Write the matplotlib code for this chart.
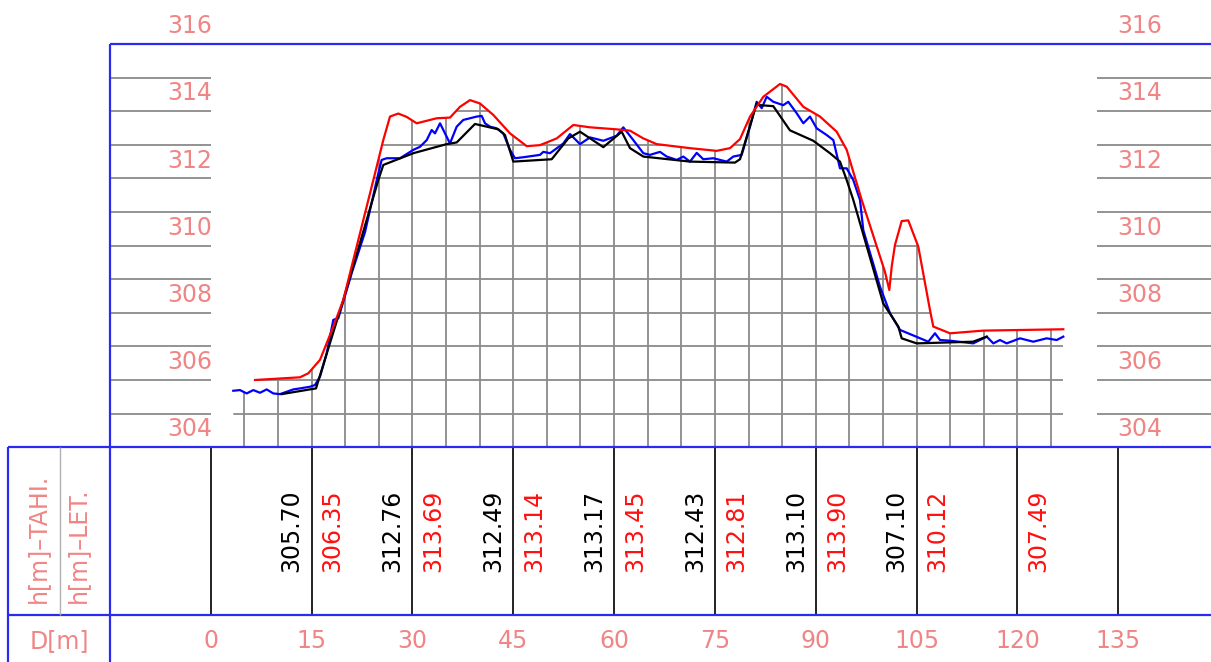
import numpy as np
import matplotlib
matplotlib.use('Agg')
import matplotlib.pyplot as plt
from matplotlib.patches import Polygon

# ---------------- data ----------------
red_d = [6.59, 13.28, 14.52, 16.26, 18.24, 19.72, 24.69, 25.67, 26.67, 27.90, 29.15, 30.64,
         33.62, 35.59, 37.08, 38.57, 40.05, 42.03, 44.52, 47.00, 48.98, 51.47, 53.93, 56.42,
         60.39, 62.37, 64.35, 66.34, 71.29, 75.26, 77.24, 78.73, 80.22, 82.20, 84.68, 85.68,
         88.15, 90.63, 93.11, 94.60, 96.83, 100.29, 100.94, 101.29, 101.78, 102.78, 103.76,
         105.25, 106.99, 107.48, 109.97, 114.92, 126.82]
red_h = [305.50, 305.58, 305.70, 306.10, 307.09, 307.88, 311.85, 312.64, 313.34, 313.43, 313.33, 313.14,
         313.29, 313.31, 313.63, 313.83, 313.73, 313.39, 312.84, 312.46, 312.49, 312.69, 313.09, 313.02,
         312.96, 312.92, 312.69, 312.52, 312.40, 312.32, 312.40, 312.67, 313.34, 313.93, 314.31, 314.23,
         313.63, 313.34, 312.89, 312.35, 310.86, 308.72, 308.18, 308.87, 309.52, 310.23, 310.25,
         309.47, 307.58, 307.09, 306.89, 306.97, 307.01]

blue_d = [3.36, 4.36, 5.35, 6.34, 7.33, 8.33, 9.31, 10.31, 11.30, 12.29, 13.28, 14.77, 15.51,
          16.26, 17.25, 18.24, 18.98, 19.49, 21.02, 22.95, 24.93, 25.43, 26.18, 28.16, 30.14,
          31.13, 32.13, 32.87, 33.36, 34.11, 35.10, 35.59, 36.59, 37.57, 39.57, 40.31, 40.80,
          41.54, 42.54, 43.52, 44.52, 45.26, 46.50, 48.98, 49.47, 50.47, 52.45, 53.44, 54.93,
          56.42, 58.40, 60.39, 61.37, 62.86, 64.35, 65.34, 66.83, 67.83, 69.31, 70.30, 71.29,
          72.29, 73.27, 74.76, 76.75, 77.73, 78.98, 80.22, 81.21, 81.96, 82.70, 83.68, 85.17,
          85.91, 87.16, 88.15, 89.14, 90.14, 91.63, 92.61, 93.60, 94.60, 95.58, 96.58, 97.07,
          99.55, 101.04, 102.53, 106.74, 107.73, 108.48, 109.97, 113.43, 114.43, 115.43,
          116.41, 117.40, 118.40, 120.38, 122.36, 124.35, 125.84, 126.82]
blue_h = [305.18, 305.20, 305.10, 305.20, 305.12, 305.22, 305.10, 305.08, 305.15, 305.22, 305.25, 305.30, 305.35,
          305.60, 306.29, 307.29, 307.34, 307.68, 308.71, 309.90, 311.65, 312.05, 312.10, 312.10, 312.35,
          312.44, 312.64, 312.94, 312.84, 313.14, 312.74, 312.54, 313.04, 313.24, 313.34, 313.36, 313.14,
          313.04, 312.99, 312.84, 312.35, 312.10, 312.13, 312.20, 312.29, 312.25, 312.54, 312.82, 312.52,
          312.72, 312.62, 312.77, 313.02, 312.64, 312.25, 312.20, 312.29, 312.15, 312.05, 312.15, 312.00,
          312.26, 312.07, 312.10, 312.00, 312.15, 312.20, 313.04, 313.78, 313.59, 313.93, 313.78, 313.68,
          313.78, 313.44, 313.14, 313.34, 312.99, 312.79, 312.64, 311.80, 311.80, 311.45, 310.86, 309.96,
          308.28, 307.49, 306.99, 306.64, 306.89, 306.69, 306.67, 306.59, 306.69, 306.79,
          306.59, 306.69, 306.59, 306.74, 306.64, 306.74, 306.69, 306.79]

black_d = [10.56, 15.66, 19.72, 24.93, 25.67, 30.14, 35.10, 36.59, 39.31, 41.05, 42.78, 43.77,
           45.01, 50.72, 53.19, 54.93, 58.40, 61.13, 62.37, 64.35, 71.29, 77.98, 78.73, 81.21,
           81.70, 83.68, 86.16, 89.63, 92.11, 93.60, 94.60, 95.58, 100.04, 102.28, 102.78,
           105.01, 113.39, 115.43]
black_h = [305.08, 305.25, 307.88, 311.45, 311.90, 312.25, 312.52, 312.57, 313.12, 313.04, 312.96, 312.79,
           312.00, 312.07, 312.69, 312.89, 312.43, 312.89, 312.40, 312.15, 312.00, 311.97, 312.07, 313.73,
           313.68, 313.65, 312.93, 312.62, 312.25, 312.00, 311.45, 310.86, 307.78, 307.09, 306.74,
           306.59, 306.64, 306.79]

tahi_st = [15, 30, 45, 60, 75, 90, 105]
tahi_val = [305.70, 312.76, 312.49, 313.17, 312.43, 313.10, 307.10]
let_st = [15, 30, 45, 60, 75, 90, 105, 120]
let_val = [306.35, 313.69, 313.14, 313.45, 312.81, 313.90, 310.12, 307.49]

d_ticks = [0, 15, 30, 45, 60, 75, 90, 105, 120, 135]
h_ticks = [304, 306, 308, 310, 312, 314, 316]
grid_levels = [304.5, 305.5, 306.5, 307.5, 308.5, 309.5, 310.5, 311.5, 312.5, 313.5, 314.5]
grid_stations = list(range(5, 130, 5))

# ---------------- layout ----------------
W, H = 1211, 662
fig = plt.figure(figsize=(W / 100, H / 100), dpi=100)
ax = fig.add_axes([0, 0, 1, 1])

X0, SX = 210.7, 6.723      # pixel of D=0, pixels per metre
Y0, SY = 447.2, 33.6       # pixel of profile base, pixels per metre
E0, ETOP = 303.5, 315.5

def D(px):
    return (px - X0) / SX

def E(py):
    return E0 + (Y0 - py) / SY

ax.set_xlim(D(0), D(W))
ax.set_ylim(E(H), E(0))
ax.axis('off')

PINK = '#f08585'
BLUE = '#2a2af0'
GREY = '#8a8a8a'
RED = '#ff1010'

# ---------------- clip region (under profile envelope) ----------------
dd = np.linspace(blue_d[0], blue_d[-1], 3000)
rb = np.interp(dd, blue_d, blue_h)
rr = np.interp(dd, red_d, red_h, left=-np.inf, right=-np.inf)
env = np.maximum(rb, rr)
verts = [(dd[0], E0)] + list(zip(dd, env)) + [(dd[-1], E0)]
clip = Polygon(verts, closed=True, transform=ax.transData)

hl = ax.hlines(grid_levels, dd[0], dd[-1], colors=GREY, lw=1.3, zorder=1)
hl.set_clip_path(clip)
vl = ax.vlines(grid_stations, E0, ETOP, colors=GREY, lw=1.3, zorder=1)
vl.set_clip_path(clip)

# label-column grid lines
ax.hlines(grid_levels, D(110), D(211), colors=GREY, lw=1.3, zorder=1)
ax.hlines(grid_levels, D(1097), D(W), colors=GREY, lw=1.3, zorder=1)

# ---------------- curves ----------------
ax.plot(blue_d, blue_h, color='#0000ff', lw=1.6, zorder=3)
ax.plot(black_d, black_h, color='black', lw=1.6, zorder=4)
ax.plot(red_d, red_h, color='#ff0000', lw=1.6, zorder=5)

# ---------------- frame ----------------
ax.hlines(ETOP, D(110), D(W), colors=BLUE, lw=1.6, zorder=6)
ax.vlines(D(110), E(H), ETOP, colors=BLUE, lw=1.6, zorder=6)
ax.hlines(E0, D(8), D(W), colors=BLUE, lw=1.6, zorder=6)
ax.hlines(E(615), D(8), D(W), colors=BLUE, lw=1.6, zorder=6)
ax.vlines(D(8), E(H), E0, colors=BLUE, lw=1.6, zorder=6)
ax.vlines(D(60), E(615), E0, colors='#b0b0b0', lw=1.0, zorder=6)

# table station lines
ax.vlines(d_ticks, E(615), E0, colors='#222222', lw=1.4, zorder=5)

# ---------------- texts ----------------
FS = 17
for h in h_ticks:
    ax.text(D(212), h + 0.03, f'{h}', ha='right', va='center', color=PINK, fontsize=FS)
    ax.text(D(1117), h + 0.03, f'{h}', ha='left', va='center', color=PINK, fontsize=FS)

for d in d_ticks:
    ax.text(d, E(641), f'{d}', ha='center', va='center', color=PINK, fontsize=FS)
ax.text(D(59), E(641), 'D[m]', ha='center', va='center', color=PINK, fontsize=FS)

ax.text(D(38), E(603), 'h[m]–TAHI.', rotation=90, rotation_mode='anchor',
        ha='left', va='center', color=PINK, fontsize=FS)
ax.text(D(78), E(603), 'h[m]–LET.', rotation=90, rotation_mode='anchor',
        ha='left', va='center', color=PINK, fontsize=FS)

for s, v in zip(tahi_st, tahi_val):
    ax.text(s - 20 / SX, E(572), f'{v:.2f}', rotation=90, rotation_mode='anchor',
            ha='left', va='center', color='black', fontsize=FS)
for s, v in zip(let_st, let_val):
    ax.text(s + 21 / SX, E(572), f'{v:.2f}', rotation=90, rotation_mode='anchor',
            ha='left', va='center', color=RED, fontsize=FS)

fig.savefig('out.png', dpi=100)
